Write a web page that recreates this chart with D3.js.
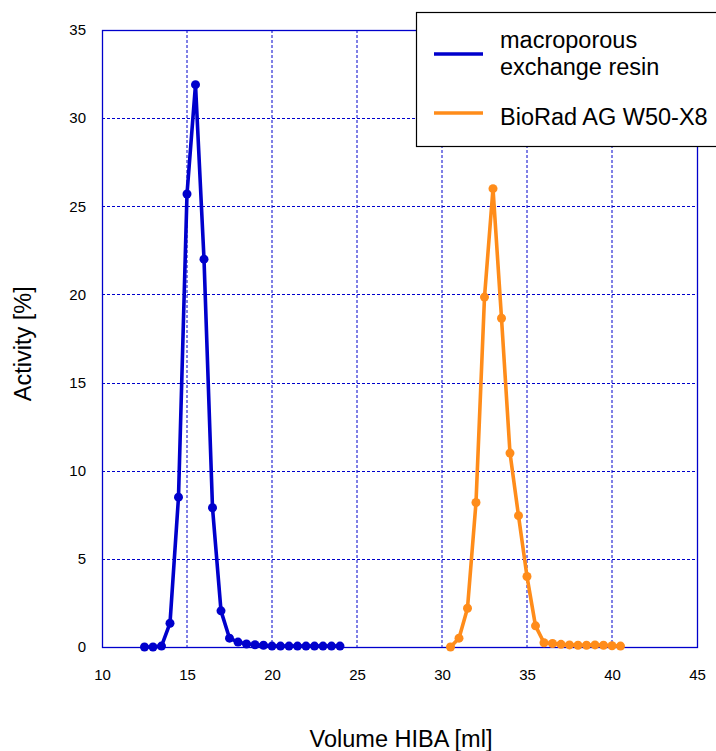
<!DOCTYPE html>
<html>
<head>
<meta charset="utf-8">
<script src="https://cdn.jsdelivr.net/npm/d3@7"></script>
<style>
  body { margin: 0; background: #fff; }
  text { font-family: "Liberation Sans", Arial, sans-serif; }
</style>
</head>
<body>
<div class="chart"></div>
<script>
// chart data
const macroVolume = [12.5, 13, 13.5, 14, 14.5, 15, 15.5, 16, 16.5, 17, 17.5, 18, 18.5, 19, 19.5, 20,
    20.5, 21, 21.5, 22, 22.5, 23, 23.5, 24];
const macroActivity = [0, 0, 0.05, 1.35, 8.5, 25.7, 31.9, 22.0, 7.9, 2.05, 0.5, 0.28, 0.17, 0.13, 0.1, 0.05,
    0.05, 0.05, 0.05, 0.05, 0.05, 0.05, 0.05, 0.05];
const biorad_volume = [30.5, 31, 31.5, 32, 32.5, 33, 33.5, 34, 34.5, 35, 35.5, 36, 36.5, 37, 37.5, 38,
    38.5, 39, 39.5, 40, 40.5];
const biorad_activity = [0, 0.5, 2.2, 8.2, 19.85, 26.0, 18.65, 11.0, 7.45, 4.0, 1.2, 0.24, 0.2, 0.15, 0.12, 0.1,
    0.1, 0.12, 0.1, 0.07, 0.05];
const xTicks = [10, 15, 20, 25, 30, 35, 40, 45];
const yTicks = [0, 5, 10, 15, 20, 25, 30, 35];
const seriesNames = [["macroporous", "exchange resin"], ["BioRad AG W50-X8"]];
const seriesColors = ["#0000cc", "#ff8c1a"];

const series = [
    { name: seriesNames[0], color: seriesColors[0], data: macroVolume.map((v, i) => ({ x: v, y: macroActivity[i] })) },
    { name: seriesNames[1], color: seriesColors[1], data: biorad_volume.map((v, i) => ({ x: v, y: biorad_activity[i] })) }
];

// Define margin conventions
const margin = { top: 30, left: 102, right: 19, bottom: 104 };
const width = 716 - margin.left - margin.right;
const height = 751 - margin.top - margin.bottom;

const svgRoot = d3.select(".chart").append("svg")
    .attr("width", 716)
    .attr("height", 751);

const svg = svgRoot.append("g")
    .attr("transform", `translate(${margin.left},${margin.top})`);

// Scales
const xScale = d3.scaleLinear().domain([10, 45]).range([0, width]);
const yScale = d3.scaleLinear().domain([0, 35]).range([height, 0]);

// Grid lines
const grid = svg.append("g").attr("class", "grid");
grid.selectAll(".vgrid").data(xTicks.slice(1, -1)).join("line")
    .attr("x1", d => xScale(d)).attr("x2", d => xScale(d))
    .attr("y1", 0).attr("y2", height)
    .attr("stroke", "#0000cc").attr("stroke-width", 1)
    .attr("stroke-dasharray", "3,2");
grid.selectAll(".hgrid").data(yTicks.slice(1, -1)).join("line")
    .attr("x1", 0).attr("x2", width)
    .attr("y1", d => Math.round(yScale(d)) + 0.5).attr("y2", d => Math.round(yScale(d)) + 0.5)
    .attr("stroke", "#0000cc").attr("stroke-width", 1)
    .attr("stroke-dasharray", "3,2");

// Plot frame
svg.append("rect")
    .attr("x", 0.5).attr("y", 0.5)
    .attr("width", width).attr("height", height)
    .attr("fill", "none")
    .attr("stroke", "#0000cc").attr("stroke-width", 1.3);

// Axes (labels only, frame drawn above)
const xAxis = d3.axisBottom(xScale).tickValues(xTicks).tickSize(0).tickPadding(22);
const yAxis = d3.axisLeft(yScale).tickValues(yTicks).tickSize(0).tickPadding(16);

const xAxisChart = svg.append("g")
    .attr("class", "axis x-axis")
    .attr("transform", `translate(0,${height})`)
    .call(xAxis);
const yAxisChart = svg.append("g")
    .attr("class", "axis y-axis")
    .call(yAxis);

[xAxisChart, yAxisChart].forEach(a => {
    a.select(".domain").remove();
    a.selectAll("text")
        .attr("font-size", 15)
        .attr("font-family", "Liberation Sans, Arial, sans-serif")
        .attr("fill", "#000");
});

// Lines and points
const line = d3.line().x(d => xScale(d.x)).y(d => yScale(d.y));

series.forEach(s => {
    svg.append("path")
        .datum(s.data)
        .attr("d", line)
        .attr("fill", "none")
        .attr("stroke", s.color)
        .attr("stroke-width", 3.6)
        .attr("stroke-linejoin", "round");
    svg.append("g").selectAll("circle").data(s.data).join("circle")
        .attr("cx", d => xScale(d.x))
        .attr("cy", d => yScale(d.y))
        .attr("r", 4.5)
        .attr("fill", s.color);
});

// Axis titles
svgRoot.append("text")
    .attr("x", 401)
    .attr("y", 747)
    .attr("text-anchor", "middle")
    .attr("font-size", 23.5)
    .text("Volume HIBA [ml]");

svgRoot.append("text")
    .attr("transform", `translate(31,${margin.top + yScale(17.2)}) rotate(-90)`)
    .attr("text-anchor", "middle")
    .attr("font-size", 23.5)
    .text("Activity [%]");

// Legend
const legend = svgRoot.append("g").attr("transform", "translate(416,12)");
legend.append("rect")
    .attr("x", 0.5).attr("y", 0.5)
    .attr("width", 320).attr("height", 134)
    .attr("fill", "#fff")
    .attr("stroke", "#000").attr("stroke-width", 1.2);

const legendRows = [42, 101];
series.forEach((s, i) => {
    legend.append("line")
        .attr("x1", 18).attr("x2", 67)
        .attr("y1", legendRows[i]).attr("y2", legendRows[i])
        .attr("stroke", s.color).attr("stroke-width", 3.6);
    const t = legend.append("text")
        .attr("x", 84)
        .attr("font-size", 23.5)
        .attr("fill", "#000");
    s.name.forEach((ln, j) => {
        t.append("tspan")
            .attr("x", 84)
            .attr("y", (s.name.length === 1 ? legendRows[i] + 12 : legendRows[i] - 6 + j * 27))
            .text(ln);
    });
});
</script>
</body>
</html>
